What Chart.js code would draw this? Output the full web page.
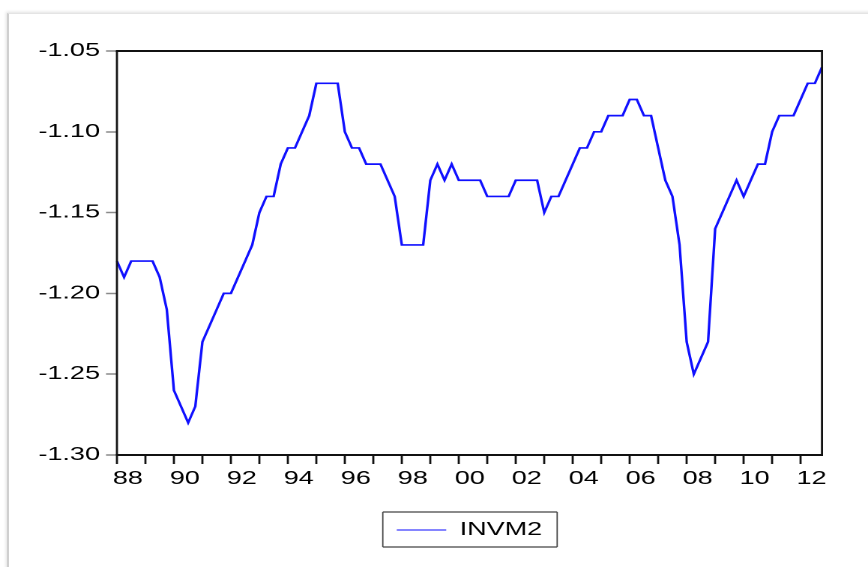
<!DOCTYPE html>
<html>
<head>
<meta charset="utf-8">
<script src="https://cdn.jsdelivr.net/npm/chart.js@4.4.1/dist/chart.umd.min.js"></script>
<style>
  html, body { margin: 0; padding: 0; background: #fff; width: 868px; height: 567px; overflow: hidden; }
  #frame { position: absolute; left: 7px; top: 13px; width: 900px; height: 600px;
           border-left: 2px solid #cfcfcf; border-top: 1px solid #e4e4e4;
           box-shadow: -1px -1px 3px rgba(0,0,0,0.12); }
  #wrap { position: absolute; left: 0; top: 0; width: 579px; height: 567px;
          transform: scaleX(1.49914); transform-origin: 0 0; }
</style>
</head>
<body>
<div id="frame"></div>
<div id="wrap"><canvas id="c"></canvas></div>
<script>
// ---- data (quarterly, 1988Q1 - 2012Q4) ----
const seriesName = 'INVM2';
const years = [1988, 1989, 1990, 1991, 1992, 1993, 1994, 1995, 1996, 1997, 1998, 1999,
               2000, 2001, 2002, 2003, 2004, 2005, 2006, 2007, 2008, 2009, 2010, 2011, 2012];
const quarterNames = ['Q1', 'Q2', 'Q3', 'Q4'];
const categories = years.flatMap(y => quarterNames.map(q => y + q));

const invm2 = [
  -1.18, -1.19, -1.18, -1.18,   // 1988
  -1.18, -1.18, -1.19, -1.21,   // 1989
  -1.26, -1.27, -1.28, -1.27,   // 1990
  -1.23, -1.22, -1.21, -1.20,   // 1991
  -1.20, -1.19, -1.18, -1.17,   // 1992
  -1.15, -1.14, -1.14, -1.12,   // 1993
  -1.11, -1.11, -1.10, -1.09,   // 1994
  -1.07, -1.07, -1.07, -1.07,   // 1995
  -1.10, -1.11, -1.11, -1.12,   // 1996
  -1.12, -1.12, -1.13, -1.14,   // 1997
  -1.17, -1.17, -1.17, -1.17,   // 1998
  -1.13, -1.12, -1.13, -1.12,   // 1999
  -1.13, -1.13, -1.13, -1.13,   // 2000
  -1.14, -1.14, -1.14, -1.14,   // 2001
  -1.13, -1.13, -1.13, -1.13,   // 2002
  -1.15, -1.14, -1.14, -1.13,   // 2003
  -1.12, -1.11, -1.11, -1.10,   // 2004
  -1.10, -1.09, -1.09, -1.09,   // 2005
  -1.08, -1.08, -1.09, -1.09,   // 2006
  -1.11, -1.13, -1.14, -1.17,   // 2007
  -1.23, -1.25, -1.24, -1.23,   // 2008
  -1.16, -1.15, -1.14, -1.13,   // 2009
  -1.14, -1.13, -1.12, -1.12,   // 2010
  -1.10, -1.09, -1.09, -1.09,   // 2011
  -1.08, -1.07, -1.07, -1.06    // 2012
];

const xTickLabels = ['88', '90', '92', '94', '96', '98', '00', '02', '04', '06', '08', '10', '12'];
const yTickValues = [-1.30, -1.25, -1.20, -1.15, -1.10, -1.05];

// ---- styling ----
const FONT = "'Liberation Sans', Arial, sans-serif";
const TEXT = '#000';
const LINE_BLUE = '#1010ff';
const LEGEND_BLUE = '#8585ff';

const plotFrame = {
  id: 'plotFrame',
  afterDatasetsDraw(chart) {
    const { ctx, chartArea: a } = chart;
    ctx.save();
    ctx.strokeStyle = '#111';
    ctx.lineWidth = 2;
    ctx.beginPath();
    ctx.moveTo(a.left - 0.7, a.top); ctx.lineTo(a.right + 0.7, a.top);
    ctx.moveTo(a.left - 0.7, a.bottom); ctx.lineTo(a.right + 0.7, a.bottom);
    ctx.stroke();
    ctx.lineWidth = 1.4;
    ctx.beginPath();
    ctx.moveTo(a.left, a.top); ctx.lineTo(a.left, a.bottom);
    ctx.moveTo(a.right, a.top); ctx.lineTo(a.right, a.bottom);
    ctx.stroke();
    ctx.restore();
  }
};

const legendFrame = {
  id: 'legendFrame',
  afterDraw(chart) {
    const lg = chart.legend;
    if (!lg || !lg.legendHitBoxes || !lg.legendHitBoxes.length) return;
    const hb = lg.legendHitBoxes[0];
    const { ctx } = chart;
    const l = hb.left - 9.3, r = hb.left + hb.width + 10;
    const t = hb.top - 9, b = hb.top + hb.height + 8;
    ctx.save();
    ctx.strokeStyle = '#444';
    ctx.lineWidth = 1.3;
    ctx.beginPath();
    ctx.moveTo(l, t); ctx.lineTo(r, t);
    ctx.moveTo(l, b); ctx.lineTo(r, b);
    ctx.stroke();
    ctx.lineWidth = 0.9;
    ctx.beginPath();
    ctx.moveTo(l, t); ctx.lineTo(l, b);
    ctx.moveTo(r, t); ctx.lineTo(r, b);
    ctx.stroke();
    ctx.restore();
  }
};

new Chart(document.getElementById('c'), {
  type: 'line',
  data: {
    labels: categories,
    datasets: [{
      label: seriesName,
      data: invm2,
      borderColor: LINE_BLUE,
      backgroundColor: LINE_BLUE,
      borderWidth: 1.7,
      pointRadius: 0,
      tension: 0,
      fill: false
    }]
  },
  options: {
    responsive: true,
    maintainAspectRatio: false,
    devicePixelRatio: 2,
    animation: false,
    layout: { padding: { top: 51, right: 30.7, bottom: 18, left: 0 } },
    plugins: {
      tooltip: { enabled: false },
      legend: {
        position: 'bottom',
        fullSize: false,
        labels: {
          font: { family: FONT, size: 18 },
          color: TEXT,
          boxWidth: 33,
          boxHeight: 2,
          padding: 10,
          generateLabels(chart) {
            return Chart.defaults.plugins.legend.labels.generateLabels(chart).map(it => {
              it.fillStyle = LEGEND_BLUE;
              it.strokeStyle = LEGEND_BLUE;
              it.lineWidth = 0;
              return it;
            });
          }
        }
      }
    },
    scales: {
      x: {
        type: 'category',
        offset: false,
        afterFit(scale) { scale.height = 56; },
        border: { display: false },
        grid: {
          drawOnChartArea: false,
          drawTicks: true,
          tickLength: 9,
          tickWidth: 1.4,
          tickColor: ctx => (ctx.index % 4 === 0 ? '#111' : 'rgba(0,0,0,0)')
        },
        ticks: {
          autoSkip: false,
          maxRotation: 0,
          minRotation: 0,
          padding: 4,
          labelOffset: 7.3,
          font: { family: FONT, size: 18 },
          color: TEXT,
          callback: (value, index) => (index % 8 === 0 ? xTickLabels[index / 8] : '')
        }
      },
      y: {
        type: 'linear',
        min: -1.30,
        max: -1.05,
        afterFit(scale) { scale.width = 78; },
        afterBuildTicks(scale) { scale.ticks = yTickValues.map(v => ({ value: v })); },
        border: { display: false },
        grid: {
          drawOnChartArea: false,
          drawTicks: true,
          tickLength: 7.3,
          tickWidth: 1.5,
          tickColor: '#8a8a8a'
        },
        ticks: {
          padding: 4,
          font: { family: FONT, size: 18 },
          color: TEXT,
          callback: v => Number(v).toFixed(2)
        }
      }
    }
  },
  plugins: [plotFrame, legendFrame]
});
</script>
</body>
</html>
